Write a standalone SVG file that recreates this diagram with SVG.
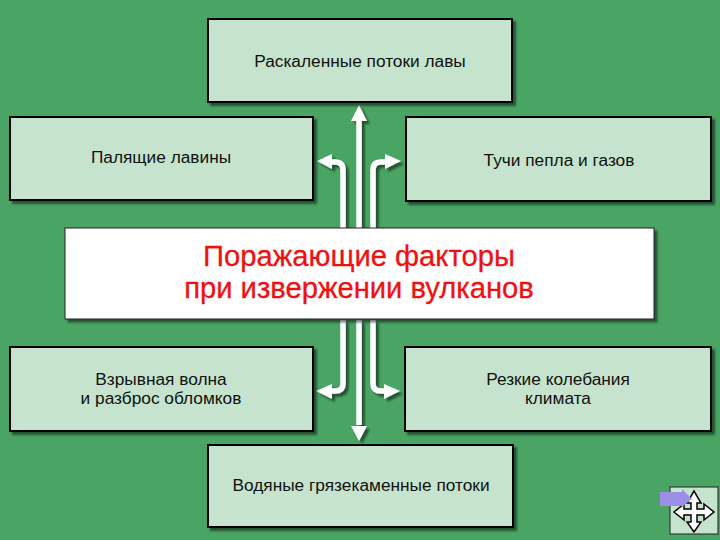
<svg xmlns="http://www.w3.org/2000/svg" width="720" height="540" viewBox="0 0 720 540">
<defs>
<filter id="sh" x="-5%" y="-5%" width="112%" height="115%"><feDropShadow dx="3" dy="3" stdDeviation="1.2" flood-color="#000" flood-opacity="0.5"/></filter>
<style>
.box{fill:#c6e4cd;stroke:#000;stroke-width:2}
.t{font-family:"Liberation Sans",Arial,sans-serif;font-size:17.3px;fill:#111;text-anchor:middle}
.r{font-family:"Liberation Sans",Arial,sans-serif;font-size:29.2px;fill:#ee1111;stroke:#ee1111;stroke-width:0.3;text-anchor:middle}
.w{fill:none;stroke:#fff;stroke-width:5.5}
.h{fill:#fff}
</style>
</defs>
<rect width="720" height="540" fill="#4aa564"/>
<g id="connectors" filter="url(#sh)">
<path class="w" d="M359 118V228M359 320V425"/>
<polygon class="h" points="359,105 351,121 367,121"/>
<polygon class="h" points="359,441 351,426 367,426"/>
<path class="w" d="M343 228V170Q343 162 335 162H330"/>
<polygon class="h" points="317,161 332,154 332,169"/>
<path class="w" d="M373 228V170Q373 162 381 162H386"/>
<polygon class="h" points="401,161 385,154 385,169"/>
<path class="w" d="M343 320V384Q343 391 335 391H330"/>
<polygon class="h" points="316,391 332,384 332,399"/>
<path class="w" d="M373 320V384Q373 391 381 391H386"/>
<polygon class="h" points="400,391 384,384 384,399"/>
</g>
<g id="n-lava"><rect class="box" x="208" y="19" width="304" height="83" filter="url(#sh)"/><text class="t" x="360" y="67">Раскаленные потоки лавы</text></g>
<g id="n-laviny"><rect class="box" x="10" y="117" width="303" height="83" filter="url(#sh)"/><text class="t" x="161" y="163">Палящие лавины</text></g>
<g id="n-tuchi"><rect class="box" x="406" y="117" width="305" height="84" filter="url(#sh)"/><text class="t" x="559" y="166">Тучи пепла и газов</text></g>
<g id="n-center"><rect x="65" y="228" width="589" height="91" fill="#fff" stroke="#222" stroke-width="1" filter="url(#sh)"/><text class="r" x="359" y="266">Поражающие факторы</text><text class="r" x="359" y="298">при извержении вулканов</text></g>
<g id="n-volna"><rect class="box" x="10" y="347" width="303" height="84" filter="url(#sh)"/><text class="t" x="161" y="385">Взрывная волна</text><text class="t" x="161" y="404">и разброс обломков</text></g>
<g id="n-klimat"><rect class="box" x="405" y="347" width="306" height="84" filter="url(#sh)"/><text class="t" x="558" y="385">Резкие колебания</text><text class="t" x="558" y="404">климата</text></g>
<g id="n-potoki"><rect class="box" x="208" y="445" width="305" height="82" filter="url(#sh)"/><text class="t" x="361" y="491">Водяные грязекаменные потоки</text></g>
<g id="nav">
<rect x="670" y="487" width="48" height="47" fill="#c6e4cd" stroke="#222" stroke-width="1"/>
<path d="M694 491L701 503H697V509H704V504L714 512L704 520V515H697V522H701L694 532L687 522H691V515H684V520L674 512L684 504V509H691V503H687Z" fill="#fff" stroke="#000" stroke-width="1.5"/>
<path d="M660 492H682V489L692 499L682 507V506H660Z" fill="#9c8fe8"/>
</g>
</svg>
